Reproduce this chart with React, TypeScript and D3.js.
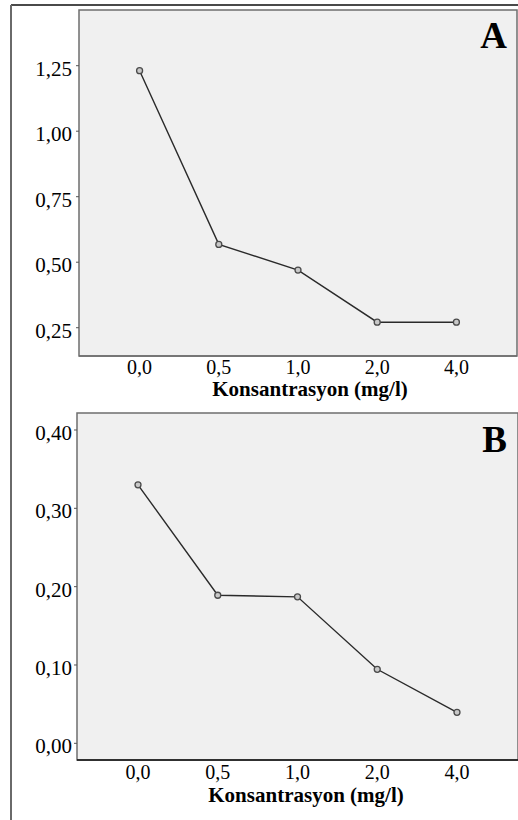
import React from "react";
import * as d3 from "d3";

const categories = ["0,0", "0,5", "1,0", "2,0", "4,0"];
const seriesA = [1.231, 0.568, 0.47, 0.271, 0.271];
const seriesB = [0.33, 0.189, 0.187, 0.0945, 0.0396];
const ticksA = [0.25, 0.5, 0.75, 1.0, 1.25];
const ticksB = [0.0, 0.1, 0.2, 0.3, 0.4];
const domainA: [number, number] = [0.142, 1.4626];
const domainB: [number, number] = [-0.0213, 0.4217];
const xTitle = "Konsantrasyon (mg/l)";

const FONT = "'Liberation Serif', 'Times New Roman', serif";

type PanelProps = {
  values: number[];
  ticks: number[];
  domain: [number, number];
  left: number;
  right: number;
  top: number;
  bottom: number;
  letter: string;
  letterBaseline: number;
  xLabelBaseline: number;
  titleBaseline: number;
  titleX: number;
  fmt: (v: number) => string;
  bottomColor: string;
};

function Panel(p: PanelProps) {
  const x = d3.scalePoint<string>().domain(categories).range([p.left, p.right]).padding(0.765);
  const y = d3.scaleLinear().domain(p.domain).range([p.bottom, p.top]);
  const line = d3
    .line<number>()
    .x((_, i) => x(categories[i]) as number)
    .y((v) => y(v));
  return (
    <g>
      <rect x={p.left} y={p.top} width={p.right - p.left} height={p.bottom - p.top} fill="#f0f0f0" stroke="#6e6e6e" strokeWidth={1.5} />
      <line x1={p.left} x2={p.right} y1={p.bottom} y2={p.bottom} stroke={p.bottomColor} strokeWidth={1.5} />
      {p.ticks.map((t) => (
        <g key={t}>
          <line x1={p.left - 3} x2={p.left} y1={y(t)} y2={y(t)} stroke="#555" strokeWidth={1} />
          <text x={72} y={y(t) + 10} textAnchor="end" fontFamily={FONT} fontSize={21} fill="#000">
            {p.fmt(t)}
          </text>
        </g>
      ))}
      {categories.map((c) => (
        <text key={c} x={x(c)} y={p.xLabelBaseline} textAnchor="middle" fontFamily={FONT} fontSize={20} fill="#000">
          {c}
        </text>
      ))}
      <text x={p.titleX} y={p.titleBaseline} textAnchor="middle" fontFamily={FONT} fontSize={21} fontWeight="bold" fill="#000">
        {xTitle}
      </text>
      <path d={line(p.values) || ""} fill="none" stroke="#2a2a2a" strokeWidth={1.4} />
      {p.values.map((v, i) => (
        <circle key={i} cx={x(categories[i])} cy={y(v)} r={3} fill="#c8c8c8" stroke="#4a4a4a" strokeWidth={1.3} />
      ))}
      <text x={507} y={p.letterBaseline} textAnchor="end" fontFamily={FONT} fontSize={37} fontWeight="bold" fill="#000">
        {p.letter}
      </text>
    </g>
  );
}

export default function App() {
  const fmt2 = (v: number) => d3.format(".2f")(v).replace(".", ",");
  return (
    <svg width={518} height={820} style={{ position: "absolute", left: 0, top: 0, background: "#fff" }}>
      <line x1={11} x2={518} y1={5} y2={5} stroke="#4a4a4a" strokeWidth={2} />
      <line x1={11} x2={11} y1={5} y2={820} stroke="#6a6a6a" strokeWidth={2} />
      <Panel
        values={seriesA}
        ticks={ticksA}
        domain={domainA}
        left={79}
        right={517}
        top={10}
        bottom={356}
        letter="A"
        letterBaseline={48}
        xLabelBaseline={374}
        titleBaseline={396}
        titleX={310}
        fmt={fmt2}
        bottomColor="#6e6e6e"
      />
      <Panel
        values={seriesB}
        ticks={ticksB}
        domain={domainB}
        left={77}
        right={518}
        top={413}
        bottom={760}
        letter="B"
        letterBaseline={452}
        xLabelBaseline={779}
        titleBaseline={802}
        titleX={306}
        fmt={fmt2}
        bottomColor="#111"
      />
    </svg>
  );
}
